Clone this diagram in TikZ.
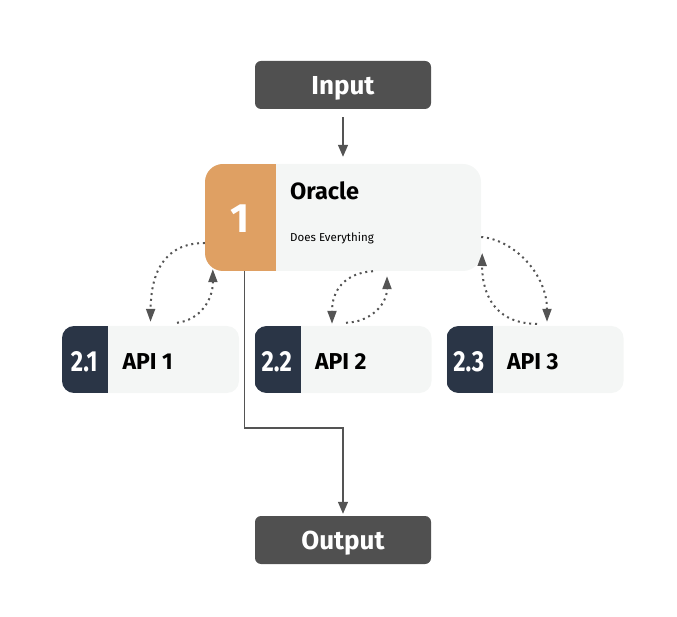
\documentclass[tikz,border=0pt]{standalone}
\usepackage{fontspec}
\setmainfont{Fira Sans}
\usetikzlibrary{arrows.meta}
\definecolor{termgray}{HTML}{505050}
\definecolor{linegray}{HTML}{545454}
\definecolor{oracleorange}{HTML}{DFA063}
\definecolor{apinavy}{HTML}{2A3546}
\definecolor{boxlight}{HTML}{F4F6F5}
\begin{document}
\begin{tikzpicture}[x=1pt,y=-1pt,
  termbox/.style={fill=termgray, rounded corners=6pt, minimum width=176pt, minimum height=48pt,
    text=white, text depth=0pt, font=\fontsize{26}{30}\selectfont\bfseries},
  oraclebox/.style={fill=boxlight, rounded corners=18pt, minimum width=276pt, minimum height=107pt,
    path picture={\fill[oracleorange, sharp corners] (path picture bounding box.south west) rectangle ([xshift=71pt]path picture bounding box.north west);}},
  apibox/.style={fill=boxlight, rounded corners=12pt, minimum width=177pt, minimum height=67pt,
    path picture={\fill[apinavy, sharp corners] (path picture bounding box.south west) rectangle ([xshift=46pt]path picture bounding box.north west);}},
  apinum/.style={anchor=base, text=white, inner sep=0pt, font=\fontsize{29}{32}\selectfont\bfseries},
  apiname/.style={anchor=base west, inner sep=0pt, font=\fontsize{23}{27}\selectfont\bfseries},
  flow/.style={draw=linegray, line width=1.3pt, -{Triangle[length=12pt,width=10pt]}},
  dotflow/.style={draw=linegray, line width=2pt, dash pattern=on 2pt off 3.8pt, -{Triangle[length=13pt,width=9pt]}}]
\useasboundingbox (0,0) rectangle (677,617);

\node[termbox] (input) at (343,85) {Input};
\node[termbox] (output) at (343,540) {Output};

\node[oraclebox] (oracle) at (343,217.5) {};
\node[text=white, font=\fontsize{41}{48}\selectfont\bfseries] (onum) at (240.5,219) {1};
\node[anchor=base west, inner sep=0pt, font=\fontsize{23.5}{27}\selectfont\bfseries] (oname) at (290,200) {Oracle};
\node[anchor=base west, inner sep=0pt, font=\fontsize{11.5}{14}\selectfont] (odesc) at (290,242) {Does Everything};

\foreach \i/\cx in {1/150.5,2/343,3/535}{
\node[apibox] (api\i) at (\cx,359.5) {};
\node[apinum] (num\i) at ([xshift=22.5pt,yshift=-12pt]api\i.west) {\scalebox{0.82}[1]{2.\i}};
\node[apiname] (name\i) at ([xshift=60.5pt,yshift=-10.5pt]api\i.west) {API \i};
}

\draw[flow, shorten <=8pt, shorten >=7pt] (input) -- (oracle);
\coordinate (bend) at (343,428);
\draw[flow] ([xshift=40pt]oracle.south west) |- (bend) -- ([yshift=2pt]output.north);

\draw[dotflow] ([yshift=-25.5pt]oracle.west) .. controls (170,243) and (151,265) .. ([yshift=4pt]api1.north);
\draw[dotflow] ([xshift=26.5pt,yshift=3pt]api1.north) .. controls (200,320) and (213,300) .. ([xshift=8pt,yshift=2pt]oracle.south west);
\draw[dotflow] ([xshift=30pt]oracle.south) .. controls (345,273) and (332,290) .. ([xshift=-11pt,yshift=2pt]api2.north);
\draw[dotflow] ([xshift=3pt,yshift=3pt]api2.north) .. controls (370,322) and (387,305) .. ([xshift=44pt,yshift=-5pt]oracle.south);
\draw[dotflow] ([yshift=-19.5pt]oracle.east) .. controls (515,240) and (547,275) .. ([xshift=12pt,yshift=4pt]api3.north);
\draw[dotflow] ([xshift=2pt,yshift=2pt]api3.north) .. controls (500,324) and (482,300) .. ([xshift=1pt,yshift=-35.5pt]oracle.east);
\end{tikzpicture}
\end{document}
